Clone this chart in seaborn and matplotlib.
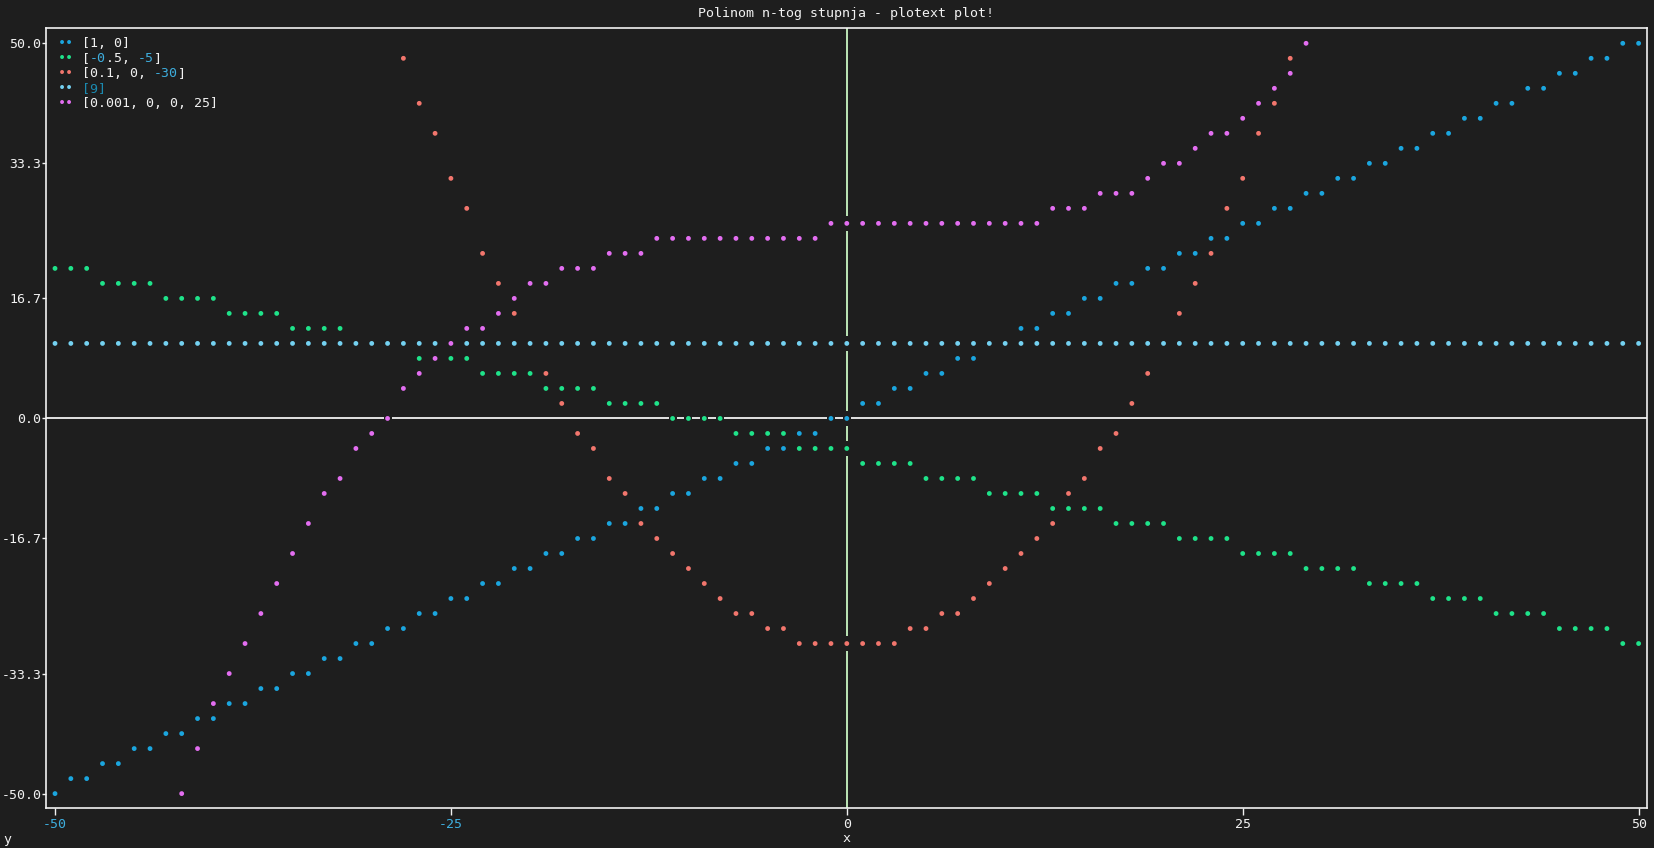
import numpy as np
import seaborn as sns
import matplotlib.pyplot as plt
from matplotlib.markers import MarkerStyle

nan = np.nan

# -------------------------
# data (values as plotted on the terminal grid, one row = 2 units)
# -------------------------
x_values = list(range(-50, 51))

y_linear = [
    -50, -48, -48, -46, -46, -44, -44, -42, -42, -40, -40,
    -38, -38, -36, -36, -34, -34, -32, -32, -30, -30,
    -28, -28, -26, -26, -24, -24, -22, -22, -20, -20,
    -18, -18, -16, -16, -14, -14, -12, -12, -10, -10,
    -8, -8, -6, -6, -4, -4, -2, -2, 0, 0,
    2, 2, 4, 4, 6, 6, 8, 8, 10, 10,
    12, 12, 14, 14, 16, 16, 18, 18, 20, 20,
    22, 22, 24, 24, 26, 26, 28, 28, 30, 30,
    32, 32, 34, 34, 36, 36, 38, 38, 40, 40,
    42, 42, 44, 44, 46, 46, 48, 48, 50, 50,
]

y_falling = [
    20, 20, 20,
    18, 18, 18, 18, 16, 16, 16, 16, 14, 14, 14, 14,
    12, 12, 12, 12, 10, 10, 10, 10, 8, 8, 8, 8,
    6, 6, 6, 6, 4, 4, 4, 4, 2, 2, 2, 2,
    0, 0, 0, 0, -2, -2, -2, -2, -4, -4, -4, -4,
    -6, -6, -6, -6, -8, -8, -8, -8, -10, -10, -10, -10,
    -12, -12, -12, -12, -14, -14, -14, -14, -16, -16, -16, -16,
    -18, -18, -18, -18, -20, -20, -20, -20, -22, -22, -22, -22,
    -24, -24, -24, -24, -26, -26, -26, -26, -28, -28, -28, -28,
    -30, -30,
]

y_parabola = [
    nan, nan, nan, nan, nan, nan, nan, nan, nan, nan, nan,
    nan, nan, nan, nan, nan, nan, nan, nan, nan, nan, nan,
    48, 42, 38, 32, 28, 22, 18, 14, 10, 6, 2, -2, -4, -8, -10,
    -14, -16, -18, -20, -22, -24, -26, -26, -28, -28, -30, -30, -30,
    -30,
    -30, -30, -30, -28, -28, -26, -26, -24, -22, -20, -18, -16, -14,
    -10, -8, -4, -2, 2, 6, 10, 14, 18, 22, 28, 32, 38, 42, 48,
    nan, nan, nan, nan, nan, nan, nan, nan, nan, nan, nan,
    nan, nan, nan, nan, nan, nan, nan, nan, nan, nan, nan,
]

y_constant = [
    10, 10, 10, 10, 10, 10, 10, 10, 10, 10,
    10, 10, 10, 10, 10, 10, 10, 10, 10, 10,
    10, 10, 10, 10, 10, 10, 10, 10, 10, 10,
    10, 10, 10, 10, 10, 10, 10, 10, 10, 10,
    10, 10, 10, 10, 10, 10, 10, 10, 10, 10,
    10, 10, 10, 10, 10, 10, 10, 10, 10, 10,
    10, 10, 10, 10, 10, 10, 10, 10, 10, 10,
    10, 10, 10, 10, 10, 10, 10, 10, 10, 10,
    10, 10, 10, 10, 10, 10, 10, 10, 10, 10,
    10, 10, 10, 10, 10, 10, 10, 10, 10, 10,
    10,
]

y_cubic = [
    nan, nan, nan, nan, nan, nan, nan, nan,
    -50, -44, -38, -34, -30, -26, -22, -18, -14, -10,
    -8, -4, -2, 0, 4, 6, 8, 10, 12, 12,
    14, 16, 18, 18, 20, 20, 20, 22, 22, 22,
    24, 24, 24, 24, 24, 24, 24, 24, 24, 24, 24,
    26,
    26, 26, 26, 26, 26, 26, 26, 26, 26, 26, 26, 26, 26,
    28, 28, 28, 30, 30, 30, 32, 34, 34, 36, 38, 38, 40, 42, 44, 46, 50,
    nan, nan, nan, nan, nan, nan, nan, nan, nan, nan, nan,
    nan, nan, nan, nan, nan, nan, nan, nan, nan, nan,
]

series = [y_linear, y_falling, y_parabola, y_constant, y_cubic]
series_colors = ["#1ba6df", "#1fe38a", "#f2766d", "#74d1f1", "#e36ef1"]

# legend labels, split into coloured pieces like the terminal showed them
W, C, T = "#f2f2f2", "#3eaede", "#1b8ab0"
legend_segments = [
    [("[1, 0]", W)],
    [("[", W), ("-0", C), (".5, ", W), ("-5", C), ("]", W)],
    [("[0.1, 0, ", W), ("-30", C), ("]", W)],
    [("[9]", T)],
    [("[0.001, 0, 0, 25]", W)],
]

title = "Polinom n-tog stupnja - plotext plot!"
x_ticks = [-50, -25, 0, 25, 50]
x_tick_labels = ["-50", "-25", "0", "25", "50"]
y_ticks = [50, 34, 16, 0, -16, -34, -50]
y_tick_labels = ["50.0", "33.3", "16.7", "0.0", "-16.7", "-33.3", "-50.0"]

# -------------------------
# style
# -------------------------
BG = "#1e1e1e"
FG = "#f2f2f2"
sns.set_theme(style="dark", rc={"axes.facecolor": BG, "figure.facecolor": BG})
plt.rcParams["font.family"] = ["DejaVu Sans Mono", "DejaVu Sans"]
FS = 9.5
CHAR_W = 0.602 * FS * 100 / 72

fig = plt.figure(figsize=(16.54, 8.48), dpi=100)
ax = fig.add_axes([46.3 / 1654, 40 / 848, 1600.7 / 1654, 779.7 / 848])
ax.set_facecolor(BG)

# axes lines through the origin
ax.axhline(0, color=FG, lw=1.3, zorder=1)
ax.axvline(0, color="#c9f5c2", lw=1.3, zorder=1)

# a character cell of background behind every point (the terminal overwrites cells)
cell = MarkerStyle([(-0.27, -0.5), (0.27, -0.5), (0.27, 0.5), (-0.27, 0.5), (-0.27, -0.5)])

for i, (ys, color) in enumerate(zip(series, series_colors)):
    sns.scatterplot(x=x_values, y=ys, ax=ax, marker=cell, s=116, color=BG,
                    edgecolor="none", linewidth=0, zorder=2 + 2 * i, legend=False)
    sns.scatterplot(x=x_values, y=ys, ax=ax, marker="o", s=12, color=color,
                    edgecolor="none", linewidth=0, zorder=3 + 2 * i, legend=False)

ax.set_xlim(-50.55, 50.53)
ax.set_ylim(-51.92, 52.0)

for side in ["left", "right", "top", "bottom"]:
    ax.spines[side].set_visible(True)
    ax.spines[side].set_color(FG)
    ax.spines[side].set_linewidth(1.2)

ax.set_xticks(x_ticks)
ax.set_xticklabels(x_tick_labels)
ax.set_yticks(y_ticks)
ax.set_yticklabels(y_tick_labels)
ax.tick_params(axis="x", direction="out", length=5, width=1, color=FG, pad=2,
               labelsize=FS, labelcolor=FG, bottom=True)
ax.tick_params(axis="y", direction="out", length=3, width=1, color=FG, pad=0.5,
               labelsize=FS, labelcolor=FG, left=True)
for lbl in ax.get_xticklabels():
    if lbl.get_text().startswith("-"):
        lbl.set_color(C)
ax.grid(False)
ax.set_xlabel("")
ax.set_ylabel("")

# legend drawn as terminal text: "••" marker then the label
for i, (segments, color) in enumerate(zip(legend_segments, series_colors)):
    dy = -15 * (i + 1) - 4
    ax.annotate("••", xy=(0, 1), xycoords="axes fraction", xytext=(12, dy),
                textcoords="offset pixels", color=color, fontsize=FS,
                ha="left", va="baseline", zorder=20)
    col = 3
    for text, tcolor in segments:
        ax.annotate(text, xy=(0, 1), xycoords="axes fraction",
                    xytext=(12 + col * CHAR_W, dy), textcoords="offset pixels",
                    color=tcolor, fontsize=FS, ha="left", va="baseline", zorder=20)
        col += len(text)

# title and axis letters
fig.text(846.5 / 1654, 1 - 14 / 848, title, color=FG, fontsize=FS, ha="center", va="center")
ax.annotate("x", xy=(0, 0), xycoords=("data", "axes fraction"), xytext=(0, -31),
            textcoords="offset pixels", color=FG, fontsize=FS, ha="center", va="center")
fig.text(3 / 1654, 1 - 839 / 848, "y", color=FG, fontsize=FS, ha="left", va="center")

plt.savefig("out.png", dpi=100, facecolor=BG)
